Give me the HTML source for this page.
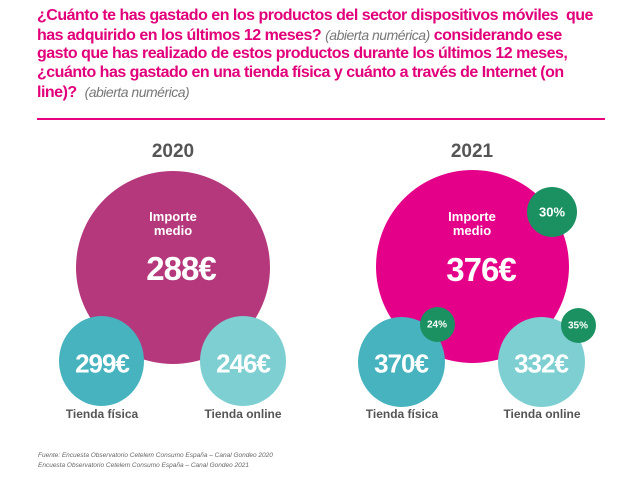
<!DOCTYPE html>
<html><head><meta charset="utf-8"><style>
body{margin:0;width:638px;height:482px;background:#fff;font-family:"Liberation Sans",Arial,sans-serif;position:relative;overflow:hidden}
.t{position:absolute;left:37px;top:7px;font-size:16px;font-weight:bold;color:#e2007a;line-height:18.7px;letter-spacing:-0.5px;white-space:nowrap}
.t i{font-weight:normal;color:#777;font-size:14px}
.line{position:absolute;left:37px;top:118px;width:568px;height:2px;background:#e6007e}
.c{position:absolute;border-radius:50%}
.txt{position:absolute;color:#fff;font-weight:bold;text-align:center;transform:translate(-50%,-50%);white-space:nowrap}
.yr{position:absolute;font-size:19px;font-weight:bold;color:#555;transform:translate(-50%,-50%)}
.lb{position:absolute;font-size:12px;font-weight:bold;color:#555;transform:translate(-50%,-50%);white-space:nowrap}
.f{position:absolute;left:38px;font-size:6.5px;font-style:italic;color:#666}
</style></head><body>
<div class="t">¿Cuánto te has gastado en los productos del sector dispositivos móviles &nbsp;que<br>has adquirido en los últimos 12 meses? <i>(abierta numérica)</i> considerando ese<br>gasto que has realizado de estos productos durante los últimos 12 meses,<br>¿cuánto has gastado en una tienda física y cuánto a través de Internet (on<br>line)? &nbsp;<i>(abierta numérica)</i></div>
<div class="line"></div>
<div class="yr" style="left:173px;top:152px">2020</div>
<div class="yr" style="left:472px;top:152px">2021</div>

<div class="c" style="left:76px;top:171px;width:194px;height:193px;background:#b5387c"></div>
<div class="c" style="left:376px;top:170px;width:193px;height:193px;background:#e5008a"></div>

<div class="c" style="left:59px;top:316px;width:85px;height:90px;background:#46b3bf"></div>
<div class="c" style="left:200px;top:316px;width:86px;height:90px;background:#7dcfd2"></div>
<div class="c" style="left:358px;top:317px;width:87px;height:90px;background:#46b3bf"></div>
<div class="c" style="left:498px;top:317px;width:87px;height:90px;background:#7dcfd2"></div>

<div class="c" style="left:527px;top:187px;width:50px;height:50px;background:#1b9161"></div>
<div class="c" style="left:420px;top:307px;width:35px;height:35px;background:#1b9161"></div>
<div class="c" style="left:561px;top:308px;width:35px;height:35px;background:#1b9161"></div>

<div class="txt" style="left:173px;top:224px;font-size:13px;line-height:14px">Importe<br>medio</div>
<div class="txt" style="left:181px;top:269px;font-size:33px;letter-spacing:-1px">288€</div>
<div class="txt" style="left:472px;top:224px;font-size:13px;line-height:14px">Importe<br>medio</div>
<div class="txt" style="left:481px;top:270px;font-size:33px;letter-spacing:-1px">376€</div>

<div class="txt" style="left:102px;top:364px;font-size:26px;letter-spacing:-1px">299€</div>
<div class="txt" style="left:243px;top:364px;font-size:26px;letter-spacing:-1px">246€</div>
<div class="txt" style="left:401px;top:364px;font-size:26px;letter-spacing:-1px">370€</div>
<div class="txt" style="left:541px;top:364px;font-size:26px;letter-spacing:-1px">332€</div>

<div class="txt" style="left:552px;top:212px;font-size:13px">30%</div>
<div class="txt" style="left:437px;top:325px;font-size:10px">24%</div>
<div class="txt" style="left:578px;top:326px;font-size:10px">35%</div>

<div class="lb" style="left:102px;top:414px">Tienda física</div>
<div class="lb" style="left:243px;top:414px">Tienda online</div>
<div class="lb" style="left:402px;top:414px">Tienda física</div>
<div class="lb" style="left:542px;top:414px">Tienda online</div>

<div class="f" style="top:452px">Fuente: Encuesta Observatorio Cetelem Consumo España – Canal Gondeo 2020</div>
<div class="f" style="top:462px">Encuesta Observatorio Cetelem Consumo España – Canal Gondeo 2021</div>
</body></html>
